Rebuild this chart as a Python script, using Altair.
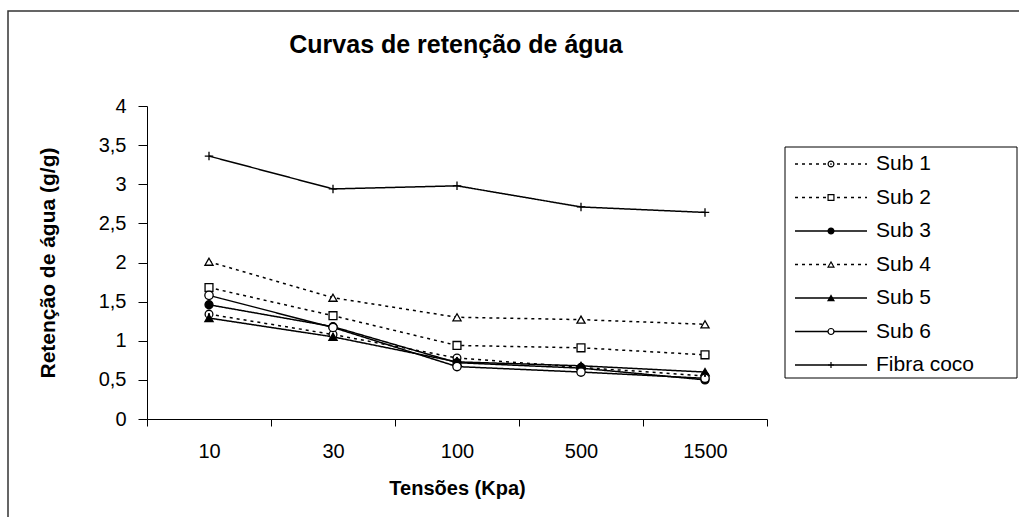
import altair as alt
import pandas as pd

# Water retention at each tension, per substrate
tensoes = ["10", "30", "100", "500", "1500"]
series = ["Sub 1", "Sub 2", "Sub 3", "Sub 4", "Sub 5", "Sub 6", "Fibra coco"]
sub1 = [1.34, 1.08, 0.78, 0.66, 0.55]
sub2 = [1.68, 1.32, 0.94, 0.91, 0.82]
sub3 = [1.46, 1.18, 0.72, 0.65, 0.50]
sub4 = [2.01, 1.55, 1.30, 1.27, 1.21]
sub5 = [1.29, 1.05, 0.73, 0.68, 0.60]
sub6 = [1.58, 1.17, 0.67, 0.60, 0.52]
fibra = [3.36, 2.94, 2.98, 2.71, 2.64]
values = [sub1, sub2, sub3, sub4, sub5, sub6, fibra]
titulo = "Curvas de retenção de água"

rows = []
for name, vals in zip(series, values):
    for t, v in zip(tensoes, vals):
        rows.append({"serie": name, "tensao": t, "valor": v})
df = pd.DataFrame(rows)

FONT = "Liberation Sans"
PLUS = "M-1,0H1M0,-1V1"
dash_range = [[3, 4], [3, 4], [1, 0], [3, 4], [1, 0], [1, 0], [1, 0]]
shape_range = ["circle", "square", "circle", "triangle-up", "triangle-up", "circle", PLUS]
fill_range = ["white", "white", "black", "white", "black", "white", "white"]
size_range = [60, 72, 70, 95, 95, 70, 110]
leg_size_range = [34, 36, 50, 48, 60, 34, 70]

dash_scale = alt.Scale(domain=series, range=dash_range)
shape_scale = alt.Scale(domain=series, range=shape_range)
fill_scale = alt.Scale(domain=series, range=fill_range)

x_scale = alt.Scale(type="band", domain=tensoes, paddingInner=0, paddingOuter=0)
x_axis = alt.Axis(
    title="Tensões (Kpa)",
    labelAngle=0,
    tickBand="extent",
    tickSize=7,
    labelPadding=15,
    titlePadding=17,
    labelFont=FONT, labelFontSize=20, labelColor="black",
    titleFont=FONT, titleFontSize=20, titleFontWeight="bold", titleColor="black",
    domainColor="black", tickColor="black", grid=False,
)
y_scale = alt.Scale(domain=[0, 4], nice=False, zero=True)
y_axis = alt.Axis(
    title="Retenção de água (g/g)",
    values=[0, 0.5, 1, 1.5, 2, 2.5, 3, 3.5, 4],
    labelExpr="replace(format(datum.value, '~g'), '.', ',')",
    tickSize=9,
    labelPadding=12,
    titlePadding=40,
    labelFont=FONT, labelFontSize=20, labelColor="black",
    titleFont=FONT, titleFontSize=21, titleFontWeight="bold", titleColor="black",
    domainColor="black", tickColor="black", grid=False,
)

x_enc = alt.X("tensao:N", sort=tensoes, bandPosition=0.5, scale=x_scale, axis=x_axis)
y_enc = alt.Y("valor:Q", scale=y_scale, axis=y_axis)

base = alt.Chart(df)

lines = base.mark_line(color="black", strokeWidth=1.5).encode(
    x=x_enc,
    y=y_enc,
    detail="serie:N",
    strokeDash=alt.StrokeDash("serie:N", scale=dash_scale, legend=None),
)

points = base.mark_point(color="black", stroke="black", strokeWidth=1.3, opacity=1, filled=False).encode(
    x=x_enc,
    y=y_enc,
    shape=alt.Shape("serie:N", scale=shape_scale, legend=None),
    fill=alt.Fill("serie:N", scale=fill_scale, legend=None),
    size=alt.Size("serie:N", scale=alt.Scale(domain=series, range=size_range), legend=None),
)

dots = base.transform_filter(alt.datum.serie == "Sub 1").mark_circle(
    color="black", size=5, opacity=1
).encode(x=x_enc, y=y_enc)

main = alt.layer(lines, points, dots)

# Legend drawn as its own layer
leg_df = pd.DataFrame({"serie": series})
leg_y = alt.Y("serie:N", sort=series,
              scale=alt.Scale(type="point", domain=series, range=[58, 259], padding=0),
              axis=None)
leg_base = alt.Chart(leg_df)
one = pd.DataFrame({"a": [0]})

leg_box = alt.Chart(one).mark_rect(
    fill="white", stroke="black", strokeWidth=1
).encode(x=alt.value(638), x2=alt.value(870), y=alt.value(41), y2=alt.value(272))

leg_lines = leg_base.mark_rule(color="black", strokeWidth=1.3).encode(
    x=alt.value(648), x2=alt.value(720), y=leg_y,
    strokeDash=alt.StrokeDash("serie:N", scale=dash_scale, legend=None),
)
leg_points = leg_base.mark_point(color="black", stroke="black", strokeWidth=1.2, opacity=1, filled=False).encode(
    x=alt.value(684), y=leg_y,
    shape=alt.Shape("serie:N", scale=shape_scale, legend=None),
    fill=alt.Fill("serie:N", scale=fill_scale, legend=None),
    size=alt.Size("serie:N", scale=alt.Scale(domain=series, range=leg_size_range), legend=None),
)
leg_dot = leg_base.transform_filter(alt.datum.serie == "Sub 1").mark_circle(
    color="black", size=3, opacity=1
).encode(x=alt.value(684), y=leg_y)
leg_text = leg_base.mark_text(
    align="left", baseline="middle", font=FONT, fontSize=21, color="black"
).encode(x=alt.value(729), y=leg_y, text="serie:N")

frame = alt.Chart(one).mark_rect(
    fill="white", fillOpacity=0, stroke="#333333", strokeWidth=1.5
).encode(x=alt.value(-139), x2=alt.value(900), y=alt.value(-95), y2=alt.value(450))

title = alt.Chart(pd.DataFrame({"t": [titulo]})).mark_text(
    font=FONT, fontSize=25, fontWeight="bold", color="black",
    align="center", baseline="middle",
).encode(x=alt.value(309), y=alt.value(-61), text="t:N")

legend = alt.layer(leg_box, leg_lines, leg_points, leg_dot, leg_text)

chart = alt.layer(frame, title, main, legend).resolve_scale(
    y="independent", x="independent", shape="independent",
    fill="independent", size="independent", strokeDash="independent",
).properties(
    width=620,
    height=313,
    background="white",
    padding={"left": 147, "top": 106, "right": 252, "bottom": 98},
    autosize=alt.AutoSizeParams(type="none"),
).configure_view(
    strokeWidth=0
)

chart.save("out.html", embed_options={"renderer": "svg", "actions": False})
